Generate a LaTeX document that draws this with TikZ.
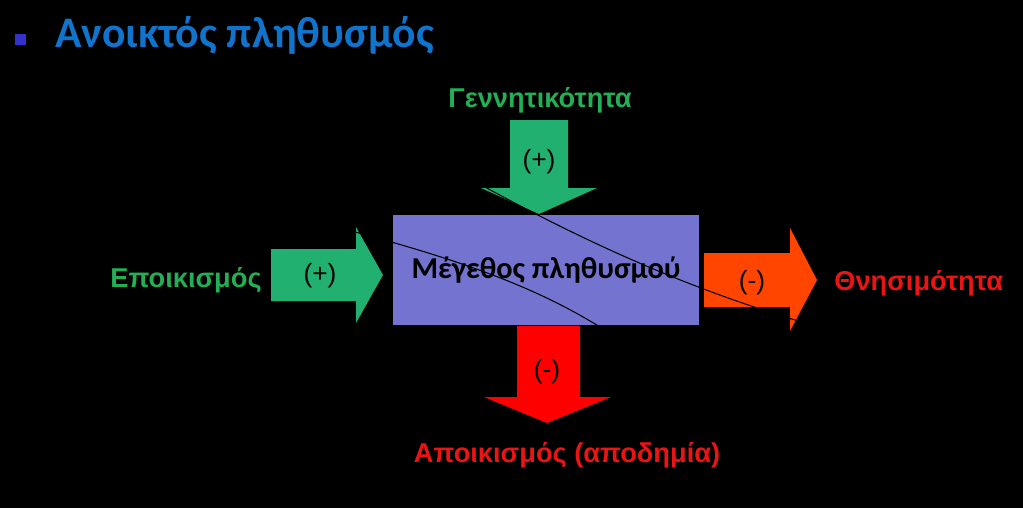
\documentclass[tikz,border=0pt]{standalone}
\usepackage{fontspec}
\setmainfont{Liberation Sans}
\newfontfamily\calfont{Carlito}
\definecolor{boxblue}{RGB}{116,116,208}
\definecolor{titleblue}{RGB}{16,116,204}
\definecolor{bulletblue}{RGB}{51,51,204}
\definecolor{arrgreen}{RGB}{33,176,112}
\definecolor{txtgreen}{RGB}{35,175,85}
\definecolor{arrorange}{RGB}{255,69,0}
\definecolor{arrred}{RGB}{255,0,0}
\definecolor{txtred}{RGB}{235,20,20}
\tikzset{
  sign/.style={font=\fontsize{15}{15}\selectfont, text=black},
  flowlabel/.style={font=\fontsize{15.5}{16}\selectfont\bfseries},
}

\begin{document}
\begin{tikzpicture}[x=0.02cm,y=-0.02cm]
        \useasboundingbox (0,0) rectangle (1023,508);
        \fill[black] (0,0) rectangle (1023,508);

        % --- TITLE ---
        \fill[bulletblue] (15,34) rectangle (26,45);
        \node[anchor=base west, inner sep=0, text=titleblue,
              font=\calfont\fontsize{24.8}{26}\selectfont\bfseries] (title) at (55,47) {Ανοικτός πληθυσμός};

        % --- ARROWS ---
        \def\arrowTop{ (510,120) -- (568,120) -- (568,188) -- (597,188) -- (539,214) -- (481,188) -- (510,188) -- cycle};
        \def\arrowLeft{ (271,249) -- (356,249) -- (356,227) -- (383,275) -- (356,323) -- (356,301) -- (271,301) -- cycle};
        \def\arrowRight{ (704,253) -- (790,253) -- (790,228) -- (817,280) -- (790,331) -- (790,307) -- (704,307) -- cycle};
        \def\arrowBottom{ (517,326) -- (580,326) -- (580,397) -- (611,397) -- (547,423) -- (484,397) -- (517,397) -- cycle};
        \fill[arrgreen] \arrowTop;
        \fill[arrgreen] \arrowLeft;
        \fill[arrorange] \arrowRight;
        \fill[arrred] \arrowBottom;

        % --- POPULATION BOX ---
        \fill[boxblue] (393,215) rectangle (699,325);
        \node[font=\calfont\fontsize{17.3}{18}\selectfont\bfseries] (size) at (546,270) {Μέγεθος πληθυσμού};

        % thin lines across the shapes
        \draw[black, line width=0.6pt] (340,228) .. controls (470,262) and (540,290) .. (600,327);
        \draw[black, line width=0.6pt] (485,187) .. controls (600,250) and (700,292) .. (805,323);

        % --- SIGNS ---
        \node[sign] (birthsign) at (539,162) {(+)};
        \node[sign] (immsign) at (320,276) {(+)};
        \node[sign] (deathsign) at (752,283) {(-)};
        \node[sign] (emisign) at (547,372) {(-)};

        % --- LABELS ---
        \node[flowlabel, text=txtgreen] (birth) at (540,100) {Γεννητικότητα};
        \node[flowlabel, text=txtgreen, anchor=east, inner sep=0] (imm) at (262,280) {Εποικισμός};
        \node[flowlabel, text=txtred, anchor=west, inner sep=0] (death) at (834,283) {Θνησιμότητα};
        \node[flowlabel, text=txtred] (emi) at (567,455) {Αποικισμός (αποδημία)};
\end{tikzpicture}
\end{document}
